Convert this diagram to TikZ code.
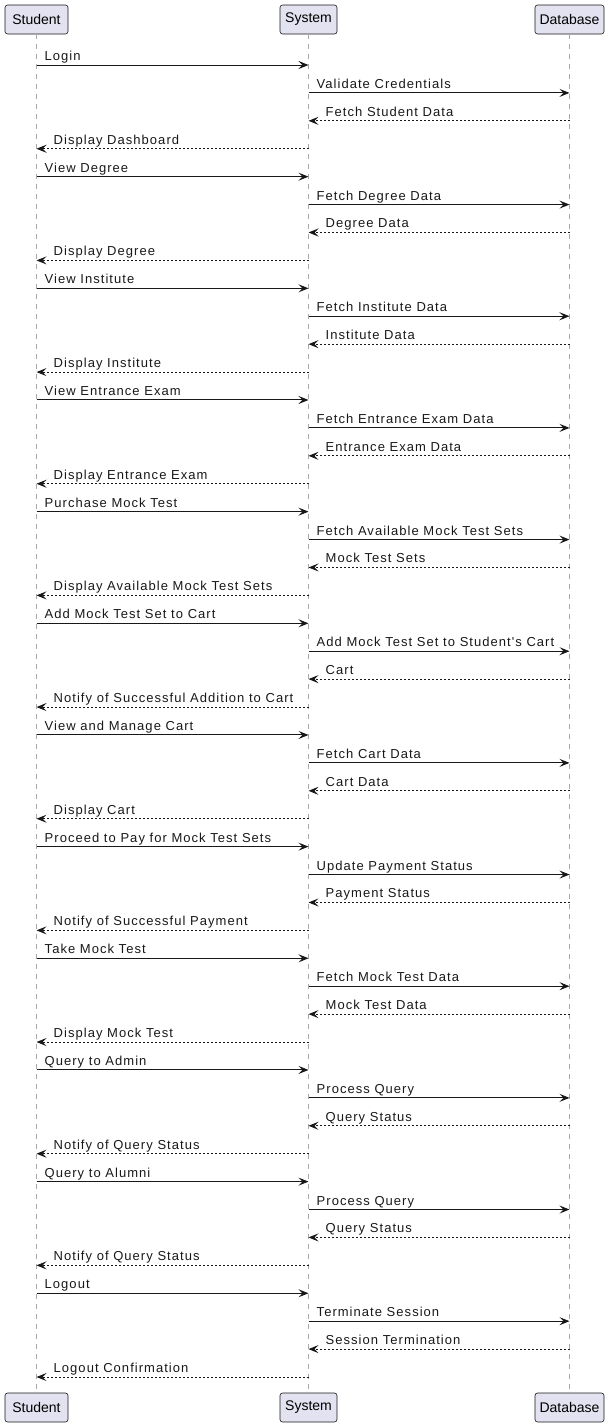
\documentclass[tikz,border=0pt]{standalone}
\usepackage{fontspec}
\setmainfont{Liberation Sans}
\newfontfamily\lblfont[LetterSpace=8]{Liberation Sans}
\usetikzlibrary{arrows.meta}
\definecolor{boxfill}{HTML}{E2E2F0}
\definecolor{ink}{HTML}{181818}
\definecolor{life}{HTML}{A8A8A8}
\tikzset{
  part/.style={draw=ink, line width=0.6pt, fill=boxfill, rounded corners=2.5pt,
    minimum height=29pt, inner sep=0pt, font=\fontsize{14}{16}\selectfont},
  lifeline/.style={draw=life, line width=1pt, dash pattern=on 5pt off 5pt},
  msg/.style={draw=ink, line width=1pt, -{Stealth[length=10pt,width=8pt,inset=4pt]}},
  ret/.style={msg, dash pattern=on 2pt off 2pt},
  lbl/.style={inner sep=0pt, anchor=base west, text=ink, font=\lblfont\fontsize{13}{15}\selectfont},
}
\begin{document}
\begin{tikzpicture}[x=1pt,y=-1pt]
\useasboundingbox (0,0) rectangle (610,1428);
% participants
\node[part, minimum width=63pt] (S) at (36.5,19.5) {Student};
\node[part, minimum width=57pt] (Y) at (308.5,19.5) {System};
\node[part, minimum width=69pt] (D) at (569.5,19.5) {Database};
\node[part, minimum width=63pt] (S2) at (36.5,1407.5) {Student};
\node[part, minimum width=57pt] (Y2) at (308.5,1407.5) {System};
\node[part, minimum width=69pt] (D2) at (569.5,1407.5) {Database};
% lifelines
\draw[lifeline] (S.south) -- (S2.north);
\draw[lifeline] (Y.south) -- (Y2.north);
\draw[lifeline] (D.south) -- (D2.north);
% messages
\foreach \f/\t/\k/\txt [count=\i from 0] in {
  S/Y/f/Login, Y/D/f/Validate Credentials, D/Y/r/Fetch Student Data, Y/S/r/Display Dashboard,
  S/Y/f/View Degree, Y/D/f/Fetch Degree Data, D/Y/r/Degree Data, Y/S/r/Display Degree,
  S/Y/f/View Institute, Y/D/f/Fetch Institute Data, D/Y/r/Institute Data, Y/S/r/Display Institute,
  S/Y/f/View Entrance Exam, Y/D/f/Fetch Entrance Exam Data, D/Y/r/Entrance Exam Data, Y/S/r/Display Entrance Exam,
  S/Y/f/Purchase Mock Test, Y/D/f/Fetch Available Mock Test Sets, D/Y/r/Mock Test Sets, Y/S/r/Display Available Mock Test Sets,
  S/Y/f/Add Mock Test Set to Cart, Y/D/f/Add Mock Test Set to Student's Cart, D/Y/r/Cart, Y/S/r/Notify of Successful Addition to Cart,
  S/Y/f/View and Manage Cart, Y/D/f/Fetch Cart Data, D/Y/r/Cart Data, Y/S/r/Display Cart,
  S/Y/f/Proceed to Pay for Mock Test Sets, Y/D/f/Update Payment Status, D/Y/r/Payment Status, Y/S/r/Notify of Successful Payment,
  S/Y/f/Take Mock Test, Y/D/f/Fetch Mock Test Data, D/Y/r/Mock Test Data, Y/S/r/Display Mock Test,
  S/Y/f/Query to Admin, Y/D/f/Process Query, D/Y/r/Query Status, Y/S/r/Notify of Query Status,
  S/Y/f/Query to Alumni, Y/D/f/Process Query, D/Y/r/Query Status, Y/S/r/Notify of Query Status,
  S/Y/f/Logout, Y/D/f/Terminate Session, D/Y/r/Session Termination, Y/S/r/Logout Confirmation} {
  \pgfmathsetmacro\yy{65+27.915*\i}
  \coordinate (a\i) at (\f |- 0,\yy);
  \coordinate (b\i) at (\t |- 0,\yy);
  \if f\k
    \draw[msg] (a\i) -- (b\i);
    \node[lbl] at ([xshift=8pt,yshift=4.5pt]a\i) {\txt};
  \else
    \draw[ret] (a\i) -- (b\i);
    \node[lbl] at ([xshift=17pt,yshift=4.5pt]b\i) {\txt};
  \fi
}
\end{tikzpicture}
\end{document}
